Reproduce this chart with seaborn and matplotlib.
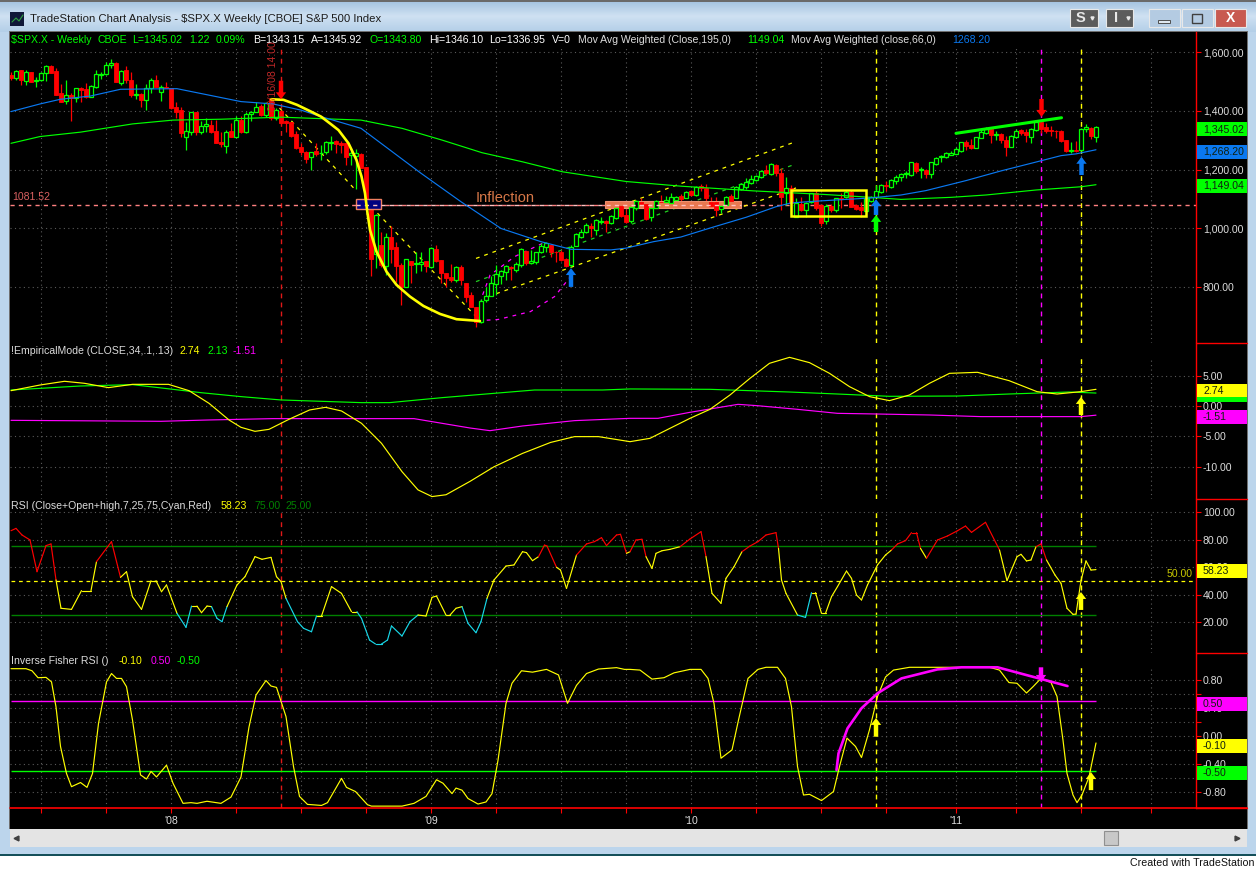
#!/usr/bin/env python3
"""TradeStation weekly $SPX.X chart with three indicator panes, redrawn with seaborn."""

import matplotlib

matplotlib.use("Agg")
import matplotlib.pyplot as plt
import numpy as np
import pandas as pd
import seaborn as sns
from matplotlib.patches import Rectangle

opens = [
    1523, 1514, 1538, 1502, 1532, 1502, 1504, 1529, 1554, 1537,
    1460, 1435, 1455, 1443, 1480, 1475, 1449, 1481, 1523, 1525,
    1555, 1563, 1497, 1538, 1506, 1453, 1458, 1439, 1477, 1506,
    1466, 1483, 1477, 1415, 1404, 1313, 1330, 1398, 1330, 1350,
    1353, 1332, 1294, 1282, 1332, 1313, 1370, 1328, 1389, 1396,
    1418, 1387, 1440, 1375, 1400, 1366, 1361, 1322, 1279, 1262,
    1242, 1265, 1256, 1259, 1292, 1298, 1292, 1290, 1250, 1247,
    1253, 1208, 1080, 912, 944, 873, 970, 938, 875, 802,
    889, 880, 880, 889, 870, 930, 892, 850, 835, 824,
    870, 816, 773, 731, 683, 755, 771, 810, 839, 853,
    868, 858, 876, 923, 884, 887, 921, 938, 943, 921,
    921, 896, 876, 941, 972, 989, 1009, 995, 1023, 1025,
    1017, 1034, 1078, 1046, 1025, 1068, 1091, 1083, 1038, 1071,
    1091, 1091, 1088, 1097, 1112, 1105, 1128, 1114, 1146, 1139,
    1091, 1091, 1065, 1080, 1111, 1103, 1133, 1142, 1154, 1165,
    1174, 1199, 1185, 1216, 1190, 1122, 1139, 1038, 1083, 1063,
    1091, 1120, 1080, 1027, 1077, 1063, 1105, 1106, 1125, 1080,
    1074, 1061, 1095, 1108, 1123, 1148, 1140, 1162, 1174, 1185,
    1182, 1224, 1199, 1199, 1186, 1220, 1243, 1242, 1250, 1254,
    1265, 1296, 1284, 1275, 1309, 1324, 1338, 1318, 1321, 1301,
    1279, 1313, 1335, 1330, 1313, 1335, 1364, 1344, 1335, 1333,
    1332, 1301, 1265, 1267, 1267, 1338, 1343, 1313,
]
highs = [
    1532, 1540, 1540, 1540, 1534, 1517, 1534, 1557, 1557, 1546,
    1491, 1506, 1460, 1480, 1481, 1494, 1489, 1540, 1534, 1566,
    1577, 1568, 1540, 1554, 1534, 1491, 1460, 1491, 1512, 1521,
    1489, 1498, 1480, 1429, 1415, 1364, 1398, 1398, 1367, 1375,
    1370, 1370, 1328, 1336, 1358, 1384, 1383, 1398, 1400, 1429,
    1424, 1429, 1443, 1409, 1404, 1370, 1364, 1332, 1290, 1265,
    1261, 1290, 1284, 1298, 1315, 1301, 1298, 1292, 1265, 1269,
    1256, 1208, 1100, 1050, 989, 985, 1008, 955, 881, 895,
    889, 921, 919, 889, 938, 944, 892, 850, 878, 872,
    875, 816, 782, 731, 759, 802, 839, 875, 858, 876,
    872, 887, 932, 924, 927, 921, 949, 955, 945, 924,
    927, 900, 943, 983, 998, 1017, 1017, 1031, 1040, 1029,
    1046, 1074, 1082, 1065, 1076, 1097, 1103, 1085, 1074, 1097,
    1114, 1111, 1120, 1112, 1117, 1128, 1131, 1145, 1151, 1151,
    1106, 1106, 1080, 1112, 1116, 1145, 1154, 1171, 1182, 1182,
    1199, 1216, 1222, 1219, 1205, 1176, 1148, 1103, 1106, 1091,
    1122, 1131, 1085, 1082, 1085, 1105, 1120, 1131, 1131, 1085,
    1091, 1106, 1111, 1148, 1151, 1160, 1168, 1182, 1190, 1196,
    1228, 1228, 1210, 1201, 1228, 1242, 1250, 1262, 1265, 1276,
    1296, 1301, 1303, 1313, 1335, 1344, 1341, 1333, 1326, 1315,
    1318, 1338, 1339, 1338, 1341, 1366, 1369, 1358, 1349, 1335,
    1335, 1301, 1296, 1298, 1341, 1356, 1344, 1349,
]
lows = [
    1506, 1506, 1487, 1489, 1500, 1483, 1502, 1502, 1529, 1453,
    1432, 1424, 1367, 1432, 1429, 1443, 1447, 1477, 1508, 1523,
    1546, 1498, 1487, 1495, 1449, 1440, 1415, 1404, 1460, 1481,
    1434, 1477, 1407, 1375, 1310, 1267, 1319, 1319, 1321, 1328,
    1324, 1290, 1279, 1256, 1310, 1313, 1324, 1324, 1367, 1396,
    1383, 1381, 1370, 1370, 1355, 1328, 1313, 1271, 1250, 1222,
    1199, 1247, 1233, 1253, 1267, 1258, 1258, 1216, 1216, 1133,
    1205, 1080, 839, 864, 870, 841, 881, 819, 739, 799,
    813, 847, 856, 853, 864, 887, 813, 802, 819, 819,
    807, 751, 734, 666, 677, 751, 771, 773, 811, 825,
    825, 853, 870, 876, 879, 879, 918, 921, 904, 887,
    890, 868, 870, 940, 966, 986, 972, 978, 1015, 989,
    1015, 1031, 1040, 1017, 1020, 1063, 1076, 1029, 1026, 1068,
    1085, 1080, 1085, 1082, 1091, 1103, 1112, 1112, 1129, 1091,
    1072, 1042, 1054, 1076, 1091, 1103, 1131, 1133, 1151, 1163,
    1171, 1185, 1182, 1179, 1063, 1080, 1057, 1038, 1060, 1040,
    1088, 1063, 1008, 1015, 1057, 1057, 1069, 1103, 1072, 1063,
    1040, 1052, 1090, 1106, 1120, 1129, 1137, 1151, 1160, 1171,
    1180, 1190, 1171, 1173, 1172, 1216, 1228, 1239, 1249, 1253,
    1262, 1267, 1270, 1273, 1307, 1322, 1290, 1301, 1290, 1247,
    1276, 1310, 1318, 1296, 1292, 1333, 1326, 1324, 1315, 1307,
    1296, 1262, 1256, 1262, 1265, 1330, 1303, 1296,
]
closes = [
    1514, 1537, 1506, 1532, 1500, 1506, 1530, 1554, 1531, 1455,
    1432, 1453, 1443, 1477, 1472, 1449, 1485, 1526, 1526, 1557,
    1563, 1500, 1537, 1506, 1453, 1457, 1439, 1480, 1506, 1481,
    1483, 1480, 1409, 1396, 1324, 1332, 1396, 1330, 1350, 1356,
    1328, 1292, 1287, 1328, 1313, 1370, 1328, 1389, 1396, 1413,
    1387, 1426, 1375, 1404, 1358, 1359, 1315, 1273, 1262, 1235,
    1259, 1253, 1258, 1295, 1295, 1288, 1283, 1242, 1256, 1256,
    1205, 1086, 895, 1046, 875, 970, 929, 873, 802, 895,
    875, 883, 887, 872, 932, 890, 847, 830, 824, 870,
    824, 768, 734, 683, 754, 769, 816, 845, 856, 872,
    867, 878, 929, 884, 889, 919, 940, 949, 921, 919,
    893, 873, 938, 981, 988, 1012, 1000, 1028, 1025, 1020,
    1042, 1068, 1042, 1021, 1072, 1093, 1083, 1032, 1071, 1093,
    1089, 1097, 1106, 1106, 1099, 1125, 1114, 1142, 1137, 1103,
    1076, 1063, 1076, 1108, 1095, 1142, 1151, 1159, 1167, 1179,
    1196, 1190, 1218, 1190, 1106, 1137, 1086, 1088, 1063, 1088,
    1120, 1069, 1017, 1078, 1063, 1103, 1099, 1125, 1074, 1065,
    1063, 1103, 1108, 1129, 1148, 1145, 1165, 1174, 1186, 1188,
    1225, 1197, 1201, 1186, 1225, 1239, 1246, 1256, 1257, 1271,
    1293, 1281, 1273, 1310, 1330, 1339, 1318, 1321, 1301, 1279,
    1315, 1333, 1324, 1318, 1339, 1361, 1338, 1333, 1333, 1331,
    1298, 1265, 1267, 1265, 1339, 1344, 1315, 1345,
]

# moving averages: week index and value at each bend
wma66_weeks = [0, 5.8, 9.9, 15.9, 21.9, 33.2, 46, 52.4, 58, 62, 70, 74, 82, 90, 98, 106, 112, 120, 123,
               128.5, 134, 140.5, 147, 153, 156, 162, 172, 178, 183, 191, 198, 204.5, 210, 213, 217]
wma66_values = [1398, 1424, 1440, 1451, 1474, 1476, 1432, 1424, 1403, 1381, 1341, 1290, 1188, 1091, 1000, 955, 929, 927, 933,
                955, 971, 1005, 1038, 1074, 1087, 1094, 1104, 1114, 1129, 1163, 1196, 1224, 1248, 1254, 1268]
wma195_weeks = [0, 5.8, 13.9, 24.3, 32.4, 42, 54, 70, 78.2, 86.2, 94.2, 102.3, 110.3, 123, 134, 148.5,
                162.5, 172, 178, 188, 195, 205, 214, 217]
wma195_values = [1290, 1313, 1328, 1356, 1369, 1372, 1379, 1369, 1341, 1301, 1258, 1227, 1193, 1160, 1144, 1128,
                 1116, 1106, 1099, 1106, 1114, 1131, 1142, 1149]

# empirical mode lines
emd_weeks = [0, 5.8, 10.7, 14.7, 19.5, 24.3, 31.5, 35.6, 39.6, 43.6, 46, 48.8, 51.6, 55.6, 59.7, 62.9, 66.1, 70.1,
             74.1, 78.2, 81.4, 84.2, 87, 91.8, 96.6, 102.3, 107.9, 112.7, 117.5, 123.8, 127.8, 131.8, 135.8, 139.8,
             143.8, 147.8, 151.7, 155.7, 159.7, 163.7, 167.7, 171.7, 175.7, 179.7, 183.7, 187.7, 193.3, 199.6, 205.2,
             209.2, 214, 217]
emd_values = [2.52, 3.45, 4.06, 3.73, 3.02, 3.56, 3.56, 2.52, 0.44, -2.3, -3.51, -4.17, -3.84, -2.19, -0.66, -0.22,
              -0.82, -2.85, -6.14, -10.8, -13.8, -14.9, -14.6, -12.4, -10.0, -7.8, -6.0, -5.04, -5.04, -5.87, -5.32,
              -3.67, -2.03, -0.55, 1.81, 4.55, 7.02, 8.0, 7.13, 5.37, 3.18, 1.54, 0.88, 1.81, 3.73, 5.37, 5.54, 4.17,
              2.36, 1.97, 2.36, 2.74]
emd_mid_weeks = [0, 5.8, 13.9, 24.3, 32.4, 38, 46, 54, 62, 70.1, 75.7, 86.2, 96.6, 104.7, 118.3, 123.8, 139.8, 155.7,
                 165.3, 175.7, 189.3, 199.6, 211.6, 217]
emd_mid_values = [2.63, 2.9, 3.29, 3.51, 2.74, 2.19, 1.54, 0.99, 0.77, 0.55, 0.55, 1.37, 2.08, 2.63, 2.63, 2.8, 2.74,
                  2.3, 1.97, 1.59, 1.64, 1.97, 2.3, 2.13]
emd_low_weeks = [0, 30, 39.6, 52.4, 68.5, 80.6, 86.2, 91.8, 95.8, 102.3, 112.7, 123.8, 129.4, 135.8, 145.4, 149.3,
                 157.3, 165.3, 173.3, 183.7, 194, 214, 217]
emd_low_values = [-2.36, -2.52, -2.3, -2.08, -2.08, -2.08, -2.85, -3.62, -4.06, -3.29, -2.41, -2.03, -2.03, -1.04,
                  0.27, 0.05, -0.55, -1.21, -1.32, -1.48, -1.75, -1.75, -1.51]

rsi_weeks = [0, 1, 2.2, 3.8, 5.2, 7, 8, 9, 10, 12.1, 14.1, 16, 17.1, 20.1, 21.9, 23.1, 24.3, 26.1, 28, 29, 30.1, 31.1,
             33.2, 35, 36.1, 37.2, 38.1, 39.2, 40.1, 41.2, 42.2, 43.2, 45.2, 46.8, 48.8, 50.2, 52, 53.1, 54, 55, 57.3,
             58.5, 60.1, 61.1, 62.1, 64.1, 66.1, 68.1, 69.2, 70.1, 71.7, 72.9, 74.1, 75.3, 76.1, 78.2, 79.8, 81.4, 83,
             84.2, 85.1, 87, 87.8, 89, 90.2, 91.4, 93, 94, 95.2, 96.6, 99, 100.6, 102.3, 103.1, 104.3, 105.5, 106.7,
             107.2, 109.1, 109.9, 111.1, 113.1, 115.1, 116.7, 118.1, 119.1, 121.1, 121.9, 123.1, 123.8, 125, 126.2,
             127, 128.2, 129, 130.2, 131.8, 133.8, 135.8, 138, 139, 140.2, 142, 143, 144.6, 146.2, 147.8, 149.4, 151,
             153, 153.5, 154.1, 155, 157.3, 158.9, 160.1, 160.9, 162.1, 162.9, 164.1, 165.3, 167.1, 168.1, 169.1,
             170.1, 171.3, 173.3, 174.9, 176.1, 177.3, 178.9, 180.1, 181.1, 181.9, 183.1, 185.3, 187.3, 189.3, 190.9,
             192.1, 194.9, 197.7, 199.2, 201.2, 202, 203.1, 204, 205, 206, 207.1, 208.8, 210, 211.2, 212.4, 213, 214,
             215, 216, 217]
rsi_values = [86.4, 88.1, 83.3, 79.7, 56.7, 75.6, 76.8, 50.7, 30.2, 29.4, 43, 43, 64, 78.5, 52.6, 56.7, 38.6, 29.4,
              50.2, 50.2, 42.2, 47.1, 26.5, 16.4, 31.8, 31.8, 27, 31.8, 31.4, 22.9, 20.5, 31.4, 47.1, 53.1, 67.6, 65.7,
              67.1, 53.1, 49.5, 37.4, 20.5, 15.7, 13.2, 24.6, 24.6, 45.9, 41, 27.7, 27.7, 22.9, 7.2, 4.3, 4.3, 7.2,
              17.4, 10.1, 20.5, 25.3, 24.6, 38.1, 39.1, 25.3, 25.3, 30.2, 31.4, 19.3, 12.5, 20.5, 37.4, 50.7, 60.8,
              61.6, 71.2, 70.5, 64.7, 67.6, 76, 75.3, 59.9, 57.9, 44.6, 68.8, 76.8, 78.5, 81.4, 75.6, 83.3, 83.8, 70,
              71.2, 79.7, 80.2, 67.6, 59.1, 70, 71.9, 72.9, 74.8, 80.4, 85.7, 67.6, 41, 33.8, 51.9, 60.3, 71.2, 75.3,
              78.5, 83.3, 85, 73.6, 50.7, 41, 25.3, 23.6, 41.5, 41.5, 26.5, 26.5, 38.6, 45.9, 57.2, 51.9, 39.8, 36.2,
              47.1, 61.6, 68.8, 72.4, 76.8, 79.2, 85, 85, 73.6, 66.4, 79.7, 82.6, 86.4, 89.8, 85.2, 92.5, 72.4, 50.2,
              67.6, 69.3, 64.5, 65.2, 74.8, 76.8, 65.2, 54.3, 48.3, 30.2, 25.8, 26, 50.2, 64.5, 57.9, 58.23]

fisher_weeks = [0, 3, 4.2, 5.4, 7, 8.1, 9, 9.9, 11.1, 12.1, 13.9, 15.2, 16.3, 17.5, 19.1, 20.1, 21.1, 22.1, 23.1, 24.3,
                25.9, 27.1, 28, 29.1, 31.1, 32.4, 34.4, 36, 37.2, 39.2, 42, 44, 46, 47.6, 49, 51, 52, 53.1, 55, 56.5,
                57.7, 59.3, 62.1, 63.3, 66.1, 67.1, 68.9, 71.3, 72.1, 78.2, 80.6, 83, 85.1, 86.4, 88.2, 89, 90.2, 91.4,
                93.4, 95, 96.2, 97.4, 99, 100.2, 102.1, 104.3, 107.1, 109.5, 111.3, 113.1, 115.1, 117.5, 121.1, 122.7,
                123.8, 125.8, 128.2, 130.6, 132.6, 135.8, 138, 139.4, 140.6, 142, 144.2, 145.5, 147.4, 149.4, 151,
                153.3, 154.9, 156.1, 157.3, 158.5, 159.7, 162.1, 164.5, 165.7, 167.2, 168.9, 170.1, 171.7, 173.3,
                174.9, 176.5, 179.7, 182.9, 187.7, 195.7, 197.7, 199.6, 201.2, 203.1, 204.4, 206, 208, 209.2, 210.4,
                211.2, 212.4, 213.2, 214.2, 215.6, 217]
fisher_values = [0.97, 0.97, 0.94, 0.84, 0.845, 0.78, 0.42, -0.15, -0.54, -0.73, -0.67, -0.74, -0.54, 0.18, 0.78, 0.9,
                 0.83, 0.83, 0.71, 0.23, -0.56, -0.62, -0.51, -0.59, -0.42, -0.68, -0.97, -0.96, -0.97, -0.94, -0.97,
                 -0.88, -0.59, 0.13, 0.59, 0.8, 0.72, 0.7, 0.28, -0.44, -0.87, -0.985, -1.0, -0.96, -0.61, -0.74, -0.8,
                 -0.99, -1.01, -1.01, -0.97, -0.87, -0.63, -0.68, -0.83, -0.75, -0.78, -0.9, -0.98, -0.95, -0.83, -0.35,
                 0.47, 0.76, 0.94, 0.92, 0.96, 0.88, 0.47, 0.73, 0.9, 0.965, 0.985, 0.96, 0.96, 0.95, 0.82, 0.84, 0.91,
                 0.96, 0.96, 0.83, 0.47, -0.32, -0.2, 0.23, 0.83, 0.96, 0.99, 0.99, 0.83, 0.42, -0.44, -0.85, -0.84,
                 -0.93, -0.8, -0.44, -0.03, -0.15, -0.31, 0.09, 0.57, 0.85, 0.95, 0.99, 0.99, 0.99, 0.99, 0.95, 0.77,
                 0.76, 0.62, 0.71, 0.83, 0.77, 0.57, -0.06, -0.54, -0.85, -0.96, -0.85, -0.59, -0.10]

# hand-drawn studies on the price pane
arc_weeks = [52, 54.5, 57.2, 60, 62, 64, 65.5, 67.5, 69.1, 70.1, 70.8, 71.3, 71.8, 73.1, 75.1, 77.1, 79.8, 82.5, 85.8, 89.1, 93.8]
arc_values = [1440, 1438, 1421, 1398, 1381, 1355, 1335, 1290, 1233, 1177, 1120, 1052, 995, 921, 853, 808, 768, 736, 709, 691, 685]
fall_dash_weeks = [53.7, 68.9]
fall_dash_values = [1410, 1131]
fall_dash2_weeks = [73.3, 93]
fall_dash2_values = [1052, 700]
arc_up_weeks = [93.4, 94.2, 95.8, 100.7, 107]
arc_up_values = [686, 768, 841, 904, 955]
arc_low_weeks = [93.4, 97.4, 103.9, 108.7, 111.9]
arc_low_values = [686, 690, 717, 768, 836]
channel_weeks = [93, 157]
channel_top = [898, 1296]
channel_mid = [819, 1220]
channel_low_weeks = [95.4, 157]
channel_low = [768, 1138]
peak_weeks = [189, 210.1]
peak_values = [1324, 1377]
fisher_arc_weeks = [165.1, 165.5, 167.3, 170.1, 173.3, 178.1, 185.3, 190.1, 197.3, 211.3]
fisher_arc_values = [-0.49, -0.25, 0.11, 0.40, 0.615, 0.83, 0.96, 0.99, 0.99, 0.72]

INFLECTION = 1081.52
EVENT_LINES = [(54, "#e01818"), (173, "#ffff00"), (206, "#ff00ff"), (214, "#ffff00")]
QUARTER_TICKS = [6, 19, 32, 45, 58, 71, 84, 97, 110, 123, 136, 149, 162, 175, 189, 201, 214, 228]
YEAR_LABELS = {32: "'08", 84: "'09", 136: "'10", 189: "'11"}

W, H = 1256, 869
LEFT, RIGHT = 10, 1196
LIME, RED, YELLOW, MAGENTA, BLUE = "#00ff00", "#ff0000", "#ffff00", "#ff00ff", "#0a78f0"
LABEL = "#dcdcdc"
FONT = "Liberation Sans"
TEXT_SIZE = 7.6

sns.set_theme(style="dark", rc={"axes.facecolor": "black", "figure.facecolor": "white"})
plt.rcParams["font.family"] = [FONT, "DejaVu Sans"]


def pane(fig, top, bottom, ylim, ticks, labels):
    ax = fig.add_axes([LEFT / W, 1 - bottom / H, (RIGHT - LEFT) / W, (bottom - top) / H], zorder=2)
    ax.set_facecolor("black")
    ax.set_xlim(-0.2, 237)
    ax.set_ylim(*ylim)
    for side in ("left", "top", "bottom"):
        ax.spines[side].set_visible(False)
    ax.spines["right"].set_color(RED)
    ax.spines["right"].set_linewidth(1)
    ax.yaxis.tick_right()
    ax.set_yticks(ticks, labels)
    ax.tick_params(axis="y", colors=RED, labelcolor=LABEL, length=3.5, width=0.8, pad=1.5, labelsize=TEXT_SIZE, right=True)
    ax.set_xticks([])
    ax.set_axisbelow(True)
    ax.grid(False)
    return ax


def draw_line(ax, weeks, values, color, lw=0.85):
    sns.lineplot(x=weeks, y=values, ax=ax, color=color, linewidth=lw, estimator=None, sort=False, legend=False)
    ax.set_xlabel("")
    ax.set_ylabel("")


def dashed(ax, weeks, values, color, lw=0.9):
    ax.plot(weeks, values, color=color, lw=lw, dashes=(3, 4))


def frame(ax, ticks, top_value, bottom_value):
    ax.hlines(ticks, -0.2, 237, color="#5a5a5a", lw=0.8, linestyles=(0, (1, 3)), zorder=0.5)
    ax.vlines(QUARTER_TICKS, bottom_value, top_value, color="#5a5a5a", lw=0.8, linestyles=(0, (1, 3)), zorder=0.5)
    for week, color in EVENT_LINES:
        ax.vlines(week, bottom_value, top_value, color=color, lw=1.0, linestyles=(0, (3.5, 3)), zorder=1.5)


def arrow(ax, week, tip, tail, color):
    ax.annotate("", xy=(week, tip), xytext=(week, tail), zorder=6,
                arrowprops=dict(facecolor=color, edgecolor=color, width=3.2, headwidth=7.5, headlength=5, shrink=0, lw=0))


def candles(ax):
    frame_df = pd.DataFrame({"o": opens, "h": highs, "l": lows, "c": closes})
    frame_df["week"] = np.arange(len(frame_df))
    up = frame_df[frame_df["c"] >= frame_df["o"]]
    down = frame_df[frame_df["c"] < frame_df["o"]]
    ax.vlines(up["week"], up["l"], up["h"], color=LIME, lw=0.9, zorder=3)
    ax.vlines(down["week"], down["l"], down["h"], color=RED, lw=0.9, zorder=3)
    ax.bar(up["week"], up["c"] - up["o"], bottom=up["o"], width=0.7, facecolor="black", edgecolor=LIME, lw=0.9, zorder=3.2)
    ax.bar(down["week"], down["o"] - down["c"], bottom=down["c"], width=0.8, facecolor=RED, edgecolor=RED, lw=0.6, zorder=3.2)


def chrome(fig):
    bg = fig.add_axes([0, 0, 1, 1], zorder=0)
    bg.set_xlim(0, W)
    bg.set_ylim(H, 0)
    bg.axis("off")
    bg.add_patch(Rectangle((0, 0), W, 855, color="#bcd5ec", lw=0))
    bar = np.linspace(0, 1, 32).reshape(-1, 1)
    bg.imshow(bar, extent=(0, W, 32, 0), cmap=matplotlib.colors.LinearSegmentedColormap.from_list(
        "bar", ["#a2c2e0", "#cfe1f2", "#b4cfe8"]), aspect="auto", zorder=1)
    bg.set_xlim(0, W)
    bg.set_ylim(H, 0)
    bg.add_patch(Rectangle((0, 0), W, 1.5, color="#6a6a6a", lw=0, zorder=2))
    bg.add_patch(Rectangle((9, 31), 1239, 798, color="#707070", lw=0, zorder=2))
    bg.add_patch(Rectangle((10, 32), 1237, 797, color="black", lw=0, zorder=2))
    bg.add_patch(Rectangle((10, 829), 1237, 18, color="#e4e4e4", lw=0, zorder=2))
    bg.add_patch(Rectangle((1104, 831), 14, 14, facecolor="#c8c8c8", edgecolor="#909090", lw=0.8, zorder=3))
    bg.add_patch(Rectangle((0, 854), W, 1.5, color="#15505a", lw=0, zorder=3))
    bg.add_patch(Rectangle((10, 12), 14, 14, color="#101838", lw=0, zorder=3))
    bg.plot([12, 16, 19, 23], [22, 18, 21, 15], color="#30a040", lw=0.8, zorder=4)
    bg.plot([16], [838], marker="<", ms=3.5, color="#404040", zorder=4)
    bg.plot([1237], [838], marker=">", ms=3.5, color="#404040", zorder=4)
    for x0, x1, face, txt in [(1070, 1098, "#5c5c5c", "S"), (1106, 1133, "#5c5c5c", "I"),
                              (1149, 1180, "#b4cbe2", ""), (1182, 1213, "#b4cbe2", ""), (1215, 1246, "#c85a50", "")]:
        bg.add_patch(Rectangle((x0, 9), x1 - x0, 18, facecolor=face, edgecolor="#e8e8e8", lw=0.8, zorder=3))
        if txt:
            bg.text(x0 + 10, 18, txt, color="#e8e8e8", fontsize=10.5, fontweight="bold", ha="center", va="center", zorder=4)
            bg.plot([x0 + 22], [18], marker="v", ms=2.2, color="#e8e8e8", zorder=4)
    bg.add_patch(Rectangle((1158, 20), 12, 3, facecolor="#dfe8f0", edgecolor="#505050", lw=0.7, zorder=4))
    bg.add_patch(Rectangle((1192, 14), 10, 9, facecolor="none", edgecolor="#404040", lw=1.0, zorder=4))
    bg.text(1230, 18, "X", color="white", fontsize=10, fontweight="bold", ha="center", va="center", zorder=4)
    bg.text(30, 19, "TradeStation Chart Analysis - $SPX.X Weekly [CBOE] S&P 500 Index", color="#1c1c1c",
            fontsize=8.2, va="center", zorder=4)
    bg.text(1130, 862.5, "Created with TradeStation", color="#101010", fontsize=7.7, va="center", zorder=4)


def overlay(fig):
    ov = fig.add_axes([0, 0, 1, 1], zorder=10)
    ov.set_xlim(0, W)
    ov.set_ylim(H, 0)
    ov.axis("off")
    ov.patch.set_alpha(0)

    header_rows = [
        (40, [(11, "$SPX.X - Weekly", LIME), (98, "CBOE", LIME), (132, "L=1345.02", LIME), (189, "1.22", LIME),
              (216, "0.09%", LIME), (253, "B=1343.15", "white"), (311, "A=1345.92", "white"),
              (370, "O=1343.80", LIME), (429, "Hi=1346.10", "white"), (489, "Lo=1336.95", "white"),
              (552, "V=0", "white"), (578, "Mov Avg Weighted (Close,195,0)", LABEL), (747, "1149.04", LIME),
              (791, "Mov Avg Weighted (close,66,0)", LABEL), (952, "1268.20", BLUE)]),
        (351, [(11, "!EmpiricalMode (CLOSE,34,.1,.13)", LABEL), (180, "2.74", YELLOW), (207, "2.13", LIME), (233, "-1.51", MAGENTA)]),
        (506, [(11, "RSI (Close+Open+high,7,25,75,Cyan,Red)", LABEL), (221, "58.23", YELLOW), (254, "75.00", "#008000"), (286, "25.00", "#008000")]),
        (661, [(11, "Inverse Fisher RSI ()", LABEL), (119, "-0.10", YELLOW), (151, "0.50", MAGENTA), (177, "-0.50", LIME)]),
    ]
    for y, pieces in header_rows:
        for x, txt, color in pieces:
            ov.text(x, y, txt, color=color, fontsize=TEXT_SIZE, va="center", ha="left")

    tags = [(122, 136, LIME, "1,345.02"), (145, 159, BLUE, "1,268.20"), (179, 193, LIME, "1,149.04"),
            (384, 397, YELLOW, "2.74"), (397, 402, LIME, ""), (410, 424, MAGENTA, "-1.51"),
            (564, 578, YELLOW, "58.23"), (697, 711, MAGENTA, "0.50"), (739, 753, YELLOW, "-0.10"), (766, 780, LIME, "-0.50")]
    for y0, y1, color, txt in tags:
        ov.add_patch(Rectangle((1197, y0), 50, y1 - y0, color=color, lw=0))
        if txt:
            ov.text(1203, (y0 + y1) / 2, txt, color="#102010", fontsize=TEXT_SIZE, va="center", ha="left")

    for y in (343, 498.7, 653, 808):
        ov.plot([1196, 1247], [y, y], color=RED, lw=1.0)
    ov.plot([10, 1247], [808, 808], color=RED, lw=1.2)
    ov.text(1167, 574, "50.00", color="#c8c800", fontsize=TEXT_SIZE, va="center", ha="left")
    ov.text(273, 76, "06/16/08 14:00", color="#c02828", fontsize=7.6, rotation=90, ha="center", va="center")


def price_pane(fig):
    ticks = [800, 1000, 1200, 1400, 1600]
    ax = pane(fig, 32, 343, (610, 1669), ticks, [f"{t:,.2f}" for t in ticks])
    frame(ax, ticks, 1621, 610)
    ax.hlines(INFLECTION, -0.2, 237, color="#ff8080", lw=1.0, linestyles=(0, (3, 3)), zorder=1.6)
    candles(ax)
    draw_line(ax, wma195_weeks, wma195_values, LIME)
    draw_line(ax, wma66_weeks, wma66_values, BLUE)
    for line in ax.lines[-2:]:
        line.set_zorder(4)

    ax.add_patch(Rectangle((118.8, 1071), 27.1, 23, facecolor="#e87850", edgecolor="#f09070", lw=0.8, zorder=3.1))
    ax.add_patch(Rectangle((69, 1066), 5, 34, facecolor="#000080", edgecolor="#f08060", lw=1.0, zorder=3.4))
    ax.hlines(INFLECTION, 69, 146, color="#ffc0c0", lw=1.0, linestyles=(0, (3, 3)), zorder=3.5)
    ax.add_patch(Rectangle((156, 1044), 15, 87, facecolor="none", edgecolor=YELLOW, lw=1.8, zorder=4.5))

    dashed(ax, fall_dash_weeks, fall_dash_values, YELLOW)
    dashed(ax, fall_dash2_weeks, fall_dash2_values, YELLOW)
    dashed(ax, channel_weeks, channel_top, YELLOW)
    dashed(ax, channel_low_weeks, channel_low, YELLOW)
    dashed(ax, channel_weeks, channel_mid, "#20d020")
    dashed(ax, arc_up_weeks, arc_up_values, MAGENTA)
    dashed(ax, arc_low_weeks, arc_low_values, MAGENTA)
    draw_line(ax, arc_weeks, arc_values, YELLOW, 1.9)
    draw_line(ax, peak_weeks, peak_values, LIME, 2.2)
    for line in ax.lines[-2:]:
        line.set_zorder(5)

    arrow(ax, 54, 1440, 1503, RED)
    arrow(ax, 112, 865, 801, BLUE)
    arrow(ax, 173, 1100, 1046, BLUE)
    arrow(ax, 173, 1046, 988, LIME)
    arrow(ax, 206.1, 1380, 1441, RED)
    arrow(ax, 214.1, 1244, 1182, BLUE)
    ax.text(93, 1105, "Inflection", color="#d87848", fontsize=10.5, va="center", ha="left", zorder=5)
    ax.text(0.2, 1107, "1081.52", color="#d86060", fontsize=TEXT_SIZE, va="center", ha="left", zorder=5)


def emd_pane(fig):
    ticks = [5, 0, -5, -10]
    ax = pane(fig, 343, 498.7, (-15.25, 10.36), ticks, [f"{t:.2f}" for t in ticks])
    frame(ax, ticks, 8.06, -15.25)
    draw_line(ax, emd_mid_weeks, emd_mid_values, LIME)
    draw_line(ax, emd_low_weeks, emd_low_values, MAGENTA)
    draw_line(ax, emd_weeks, emd_values, YELLOW)
    arrow(ax, 214, 1.48, -1.48, YELLOW)


def rsi_pane(fig):
    ticks = [100, 80, 60, 40, 20]
    ax = pane(fig, 498.7, 653, (-2.2, 109.6), ticks, [f"{t:.2f}" for t in ticks])
    frame(ax, ticks, 100, -2.2)
    ax.hlines([75, 25], 0, 217, color="#008000", lw=1.0, zorder=2)
    ax.hlines(50, 0, 237, color=YELLOW, lw=0.9, linestyles=(0, (3, 3)), zorder=2)
    for i in range(len(rsi_values) - 1):
        a, b = rsi_values[i], rsi_values[i + 1]
        color = RED if max(a, b) > 75 else "#18d8e8" if min(a, b) < 24 else YELLOW
        draw_line(ax, rsi_weeks[i:i + 2], rsi_values[i:i + 2], color)
    arrow(ax, 214, 42, 29, YELLOW)


def fisher_pane(fig):
    ticks = [0.8, 0.6, 0.4, 0.2, 0.0, -0.2, -0.4, -0.6, -0.8]
    labels = [f"{t:.2f}" if i % 2 == 0 else "" for i, t in enumerate(ticks)]
    ax = pane(fig, 653, 808, (-1.037, 1.196), ticks, labels)
    frame(ax, ticks, 0.99, -1.037)
    ax.hlines(0.5, 0, 217, color=MAGENTA, lw=1.0, zorder=2)
    ax.hlines(-0.5, 0, 217, color=LIME, lw=1.0, zorder=2)
    draw_line(ax, fisher_weeks, fisher_values, YELLOW)
    draw_line(ax, fisher_arc_weeks, fisher_arc_values, MAGENTA, 1.9)
    arrow(ax, 173, 0.26, -0.01, YELLOW)
    arrow(ax, 216, -0.52, -0.78, YELLOW)
    arrow(ax, 206, 0.78, 0.99, MAGENTA)
    ax.set_xticks(QUARTER_TICKS, [YEAR_LABELS.get(w, "") for w in QUARTER_TICKS])
    ax.tick_params(axis="x", colors=RED, labelcolor=LABEL, length=3.5, width=0.8, pad=2.5, labelsize=TEXT_SIZE, bottom=True)


def main():
    fig = plt.figure(figsize=(W / 100, H / 100), dpi=100)
    chrome(fig)
    price_pane(fig)
    emd_pane(fig)
    rsi_pane(fig)
    fisher_pane(fig)
    overlay(fig)
    fig.savefig("out.png", dpi=100)


if __name__ == "__main__":
    main()
